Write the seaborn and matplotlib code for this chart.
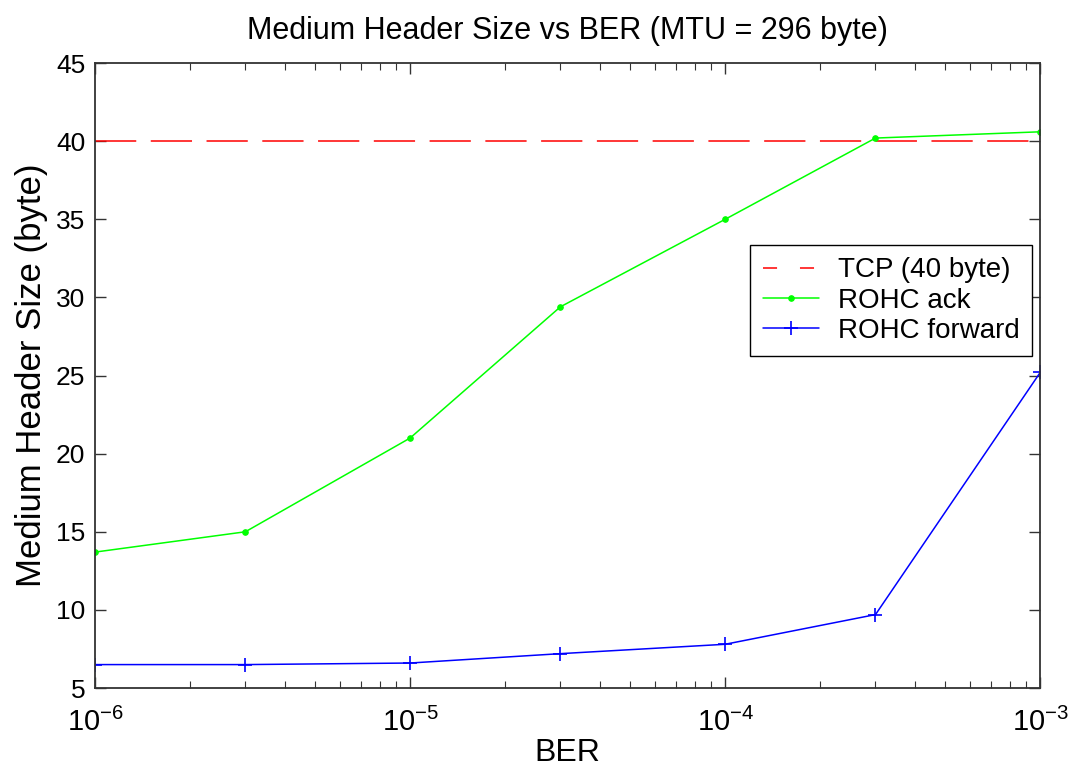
import matplotlib
matplotlib.use("Agg")
import matplotlib.pyplot as plt
import matplotlib.ticker as mticker
import numpy as np
import pandas as pd
import seaborn as sns

# Bit error rates at which the header size was evaluated
ber = [1e-6, 3e-6, 1e-5, 3e-5, 1e-4, 3e-4, 1e-3]

# Mean header size (byte) for each scheme
tcp_size = [40, 40, 40, 40, 40, 40, 40]
rohc_ack = [13.7, 15.0, 21.0, 29.4, 35.0, 40.2, 40.6]
rohc_forward = [6.5, 6.5, 6.6, 7.2, 7.8, 9.7, 25.2]

series_names = ["TCP (40 byte)", "ROHC ack", "ROHC forward"]
y_ticks = [5, 10, 15, 20, 25, 30, 35, 40, 45]
x_ticks = [1e-6, 1e-5, 1e-4, 1e-3]

sns.set_style("ticks")
plt.rcParams["font.family"] = ["Liberation Sans", "DejaVu Sans"]
plt.rcParams["mathtext.fontset"] = "custom"
plt.rcParams["mathtext.rm"] = "Liberation Sans"
plt.rcParams["mathtext.it"] = "Liberation Sans"
plt.rcParams["mathtext.default"] = "regular"
for key in ("text.color", "axes.labelcolor", "xtick.color", "ytick.color"):
    plt.rcParams[key] = "black"

df = pd.DataFrame({
    "BER": ber * 3,
    "size": tcp_size + rohc_ack + rohc_forward,
    "scheme": [series_names[0]] * len(ber) + [series_names[1]] * len(ber) + [series_names[2]] * len(ber),
})

fig = plt.figure(figsize=(10.68, 7.69), dpi=100)
ax = fig.add_axes([0.089, 0.1053, 0.885, 0.8127])

styles = {
    series_names[0]: dict(color="#ff0000", linestyle=(0, (27, 9.5)), marker=None),
    series_names[1]: dict(color="#00ff00", linestyle="-", marker="o", markersize=4),
    series_names[2]: dict(color="#0000ff", linestyle="-", marker="+", markersize=10, markeredgewidth=1.2),
}

for name in series_names:
    sub = df[df["scheme"] == name]
    sns.lineplot(data=sub, x="BER", y="size", ax=ax, label=name,
                 linewidth=1.1, markeredgecolor=styles[name]["color"],
                 **styles[name])

ax.set_xscale("log")
ax.set_xlim(1e-6, 1e-3)
ax.set_ylim(5, 45)
ax.set_yticks(y_ticks)
ax.set_xticks(x_ticks)
ax.xaxis.set_major_formatter(mticker.LogFormatterMathtext())
ax.xaxis.set_minor_locator(mticker.LogLocator(base=10, subs=np.arange(2, 10)))
ax.xaxis.set_minor_formatter(mticker.NullFormatter())

ax.tick_params(axis="both", which="major", direction="in", length=8, width=1.0,
               top=True, right=True, color="#333333")
ax.tick_params(axis="both", which="minor", direction="in", length=5, width=0.8,
               top=True, right=True, color="#333333")
ax.tick_params(axis="y", which="major", labelsize=19, pad=7)
ax.tick_params(axis="x", which="major", labelsize=21, pad=14)
for sp in ax.spines.values():
    sp.set_visible(True)
    sp.set_color("#333333")
    sp.set_linewidth(1.3)

ax.set_xlabel("BER", fontsize=23, labelpad=1)
ax.set_ylabel("Medium Header Size (byte)", fontsize=25, labelpad=6)
ax.set_title("Medium Header Size vs BER (MTU = 296 byte)", fontsize=22, pad=17)

leg = ax.legend(loc="upper right", bbox_to_anchor=(0.9915, 0.709), fontsize=20,
                frameon=True, fancybox=False, shadow=False, framealpha=1,
                edgecolor="black", handlelength=2.0, borderpad=0.45,
                labelspacing=0.15, handletextpad=0.7, borderaxespad=0)
leg.get_frame().set_linewidth(1.0)
# shorter dashes in the legend key so two dashes show
leg.get_lines()[0].set_linestyle((0, (9.2, 15)))

fig.savefig("out.png", dpi=100)
